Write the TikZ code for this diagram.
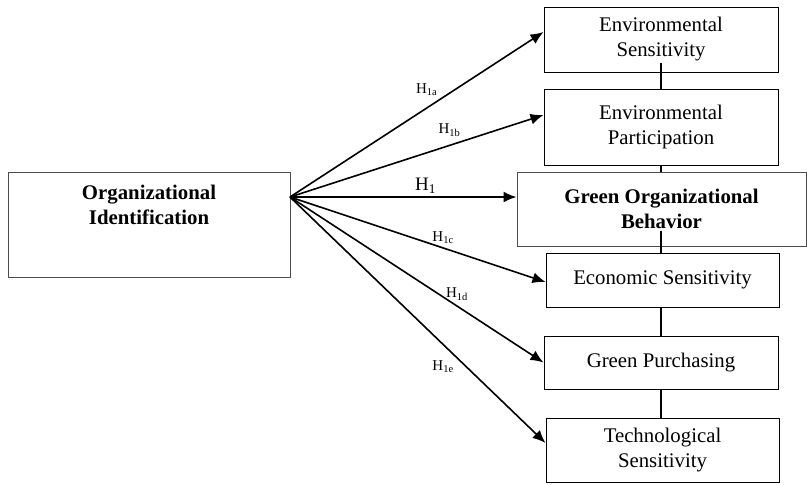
\documentclass[tikz,border=0pt]{standalone}
\usepackage{fontspec}
\setmainfont{Liberation Serif}
\usetikzlibrary{arrows.meta,positioning,calc}

\begin{document}
\begin{tikzpicture}[->,>={Latex[length=6.5pt,width=5.5pt]},x=0.5pt,y=-0.5pt,line width=0.8pt]
\tikzset{box/.style={draw,rectangle,line width=0.5pt,minimum width=117pt,align=center,inner sep=2pt,font=\fontsize{10.4}{12.5}\selectfont}}
\tikzset{hyp/.style={font=\fontsize{7.5}{8}\selectfont,inner sep=0pt}}

\useasboundingbox (0,0) rectangle (807,484);

\node[box,draw=black!70,minimum width=141pt,minimum height=52.5pt] (oi) at (149,224.5) {};
\node[align=center,font=\bfseries\fontsize{10.4}{12.5}\selectfont] (oitext) at (149,204.5) {Organizational\\Identification};
\coordinate (src) at (290,197);

\node[box,minimum height=32.5pt] (es) at (661,39.5) {Environmental\\Sensitivity};
\node[box,minimum height=38pt] (ep) at (661,127) {Environmental\\Participation};
\node[box,draw=black!70,minimum width=144.5pt,minimum height=37pt,font=\bfseries\fontsize{10.4}{12.5}\selectfont] (gob) at (661.5,209) {Green Organizational\\Behavior};
\node[box,minimum width=116.5pt,minimum height=27pt] (ec) at (662.5,280) {Economic Sensitivity};
\node[box,minimum height=26.5pt] (gp) at (661,362.5) {Green Purchasing};
\node[box,minimum width=116.5pt,minimum height=32pt] (ts) at (662.5,450) {Technological\\Sensitivity};

% links between the dimensions
\draw[-,line width=0.7pt] ($(es.south)+(0,-10)$) -- (es.south |- ep.north);
\draw[-,line width=0.7pt] (ep.south) -- (ep.south |- gob.north);
\draw[-,line width=0.7pt] ($(ep.south |- gob.south)+(0,-16)$) -- (ep.south |- ec.north);
\draw[-,line width=0.7pt] (ep.south |- ec.south) -- (ep.south |- gp.north);
\draw[-,line width=0.7pt] (ep.south |- gp.south) -- (ep.south |- ts.north);

\path	(src)	edge	node[hyp,pos=.54,yshift=9pt]	{H\textsubscript{1a}}	($(es.west)+(0,-7.5)$)
		edge	node[hyp,pos=.63,yshift=7.5pt]	{H\textsubscript{1b}}	($(ep.west)+(0,-12)$)
		edge	node[hyp,pos=.6,yshift=5.5pt,font=\fontsize{9.5}{10}\selectfont]	{H\textsubscript{1}}	($(gob.west)+(0,-12)$)
		edge	node[hyp,pos=.6,yshift=5pt]	{H\textsubscript{1c}}	($(ec.west)+(0,2)$)
		edge	node[hyp,pos=.66,yshift=6pt]	{H\textsubscript{1d}}	(gp.west)
		edge	node[hyp,pos=.6,yshift=-11pt]	{H\textsubscript{1e}}	($(ts.west)+(0,-7)$);
\end{tikzpicture}
\end{document}
